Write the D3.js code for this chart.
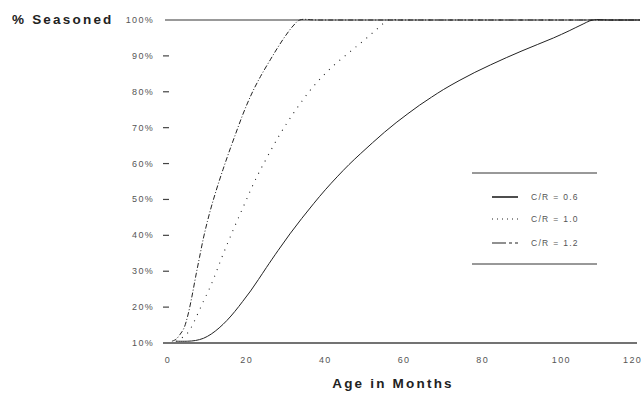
<!DOCTYPE html>
<html><head><meta charset="utf-8">
<script src="https://cdn.jsdelivr.net/npm/d3@7"></script>
<style>
body{margin:0;background:#fff;}
svg{display:block;}
text{font-family:"Liberation Sans",Arial,sans-serif;}
</style></head>
<body>
<svg id="chart" width="643" height="397"></svg>
<script>
const seriesNames = ["C/R = 0.6", "C/R = 1.0", "C/R = 1.2"];
const xTicks = [0, 20, 40, 60, 80, 100, 120];
const yTicks = [10, 20, 30, 40, 50, 60, 70, 80, 90, 100];
const cr06 = [[2,10.5],[5,10.5],[7,10.7],[9,11.3],[11,12.5],[13,14.2],[15,16.3],[17,18.8],[19,21.6],[21,24.5],[23,27.7],[25,31],[28,35.8],[31,40.4],[34,44.7],[37,48.8],[40,52.7],[43,56.3],[46,59.7],[49,62.8],[52,65.8],[55,68.7],[58,71.4],[61,73.9],[64,76.3],[67,78.5],[70,80.6],[74,83.1],[78,85.4],[82,87.5],[86,89.5],[90,91.4],[94,93.2],[98,95],[102,97],[105,98.6],[108,100],[112,100],[120,100]];
const cr10 = [[2,10.5],[3,11],[4,11.8],[5,12.8],[6,14.5],[7,16.8],[8,19.2],[9,21.6],[10,23.9],[11,26.3],[12,29],[13,31.9],[14,34.7],[15,37.4],[16,40],[17,42.6],[18,45.1],[19,47.6],[20,50.1],[21,52.6],[22,55],[23,57.2],[24,59.3],[26,63.4],[28,67.3],[30,70.9],[32,74.2],[34,77.3],[36,80.2],[38,82.8],[40,85.1],[42,87.2],[44,89.1],[46,90.9],[48,92.7],[50,94.5],[52,96.4],[54,98.3],[56,100],[60,100],[120,100]];
const cr12 = [[1,10.5],[2,11],[3,12.3],[4,14],[5,17.5],[6,22.5],[7,28.3],[8,33.8],[9,39.2],[10,43.8],[11,47.9],[12,51.6],[13,55.1],[14,58.4],[15,61.6],[16,64.7],[17,67.7],[18,70.7],[19,73.6],[20,76.3],[21,78.8],[22,81.1],[23,83.2],[24,85.2],[26,88.9],[28,92.5],[30,95.8],[32,98.6],[33.5,100],[38,100],[120,100]];
const seriesData = [cr06, cr10, cr12];
const dashes = [null, "1,6", "5,2,1,2"];

const svg = d3.select("#chart");
const x = d3.scaleLinear().domain([0,120]).range([168,640]);
const y = d3.scaleLinear().domain([10,100]).range([343,20]);
const ink = "#222";

// top 100% line
svg.append("line").attr("x1",165).attr("x2",640).attr("y1",y(100)).attr("y2",y(100))
  .attr("stroke","#777").attr("stroke-width",1.5);
// bottom axis line
svg.append("line").attr("x1",163).attr("x2",637).attr("y1",y(10)).attr("y2",y(10))
  .attr("stroke","#444").attr("stroke-width",1.5);

// y ticks
const yg = svg.append("g");
yTicks.forEach(t=>{
  if(t>10 && t<100) yg.append("line").attr("x1",163).attr("x2",169).attr("y1",y(t)).attr("y2",y(t))
    .attr("stroke","#444").attr("stroke-width",1.2);
  yg.append("text").attr("x",154).attr("y",y(t)+3).attr("text-anchor","end")
    .attr("font-size",9).attr("letter-spacing",1.3).attr("fill","#555").text(t+"%");
});
// x ticks
xTicks.forEach((t,i)=>{
  const last = i===xTicks.length-1;
  svg.append("text").attr("x",last?642:x(t)).attr("y",363).attr("text-anchor",last?"end":"middle")
    .attr("font-size",9).attr("letter-spacing",1.3).attr("fill","#555").text(t);
});

// titles
svg.append("text").attr("x",12).attr("y",24).attr("font-size",13.5).attr("font-weight","bold")
  .attr("letter-spacing",2.2).attr("fill","#222").text("% Seasoned");
svg.append("text").attr("x",393).attr("y",388).attr("text-anchor","middle").attr("font-size",13.5)
  .attr("font-weight","bold").attr("letter-spacing",2.2).attr("fill","#222").text("Age in Months");

// curves
const line = d3.line().x(d=>x(d[0])).y(d=>y(d[1])).curve(d3.curveCatmullRom.alpha(0.5));
seriesData.forEach((s,i)=>{
  svg.append("path").attr("d",line(s)).attr("fill","none").attr("stroke",ink)
    .attr("stroke-width", i===1?1.1:1).attr("stroke-dasharray",dashes[i]);
});

// legend
svg.append("line").attr("x1",472).attr("x2",597).attr("y1",173).attr("y2",173).attr("stroke","#333").attr("stroke-width",1);
svg.append("line").attr("x1",472).attr("x2",597).attr("y1",264).attr("y2",264).attr("stroke","#333").attr("stroke-width",1);
const legY = [197, 219, 243];
seriesNames.forEach((n,i)=>{
  svg.append("line").attr("x1",492).attr("x2",518).attr("y1",legY[i]).attr("y2",legY[i])
    .attr("stroke",ink).attr("stroke-width",i===0?1.6:1.1).attr("stroke-dasharray",i===1?"1,4":(i===2?"14,3,3,3":null));
  svg.append("text").attr("x",531).attr("y",legY[i]+3).attr("font-size",8.5).attr("letter-spacing",1.3)
    .attr("fill","#555").text(n);
});
</script>
</body></html>
